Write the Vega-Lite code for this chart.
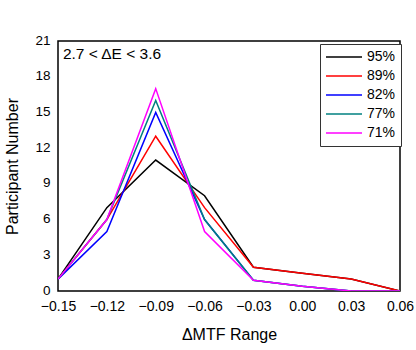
{
  "$schema": "https://vega.github.io/schema/vega-lite/v6.json",
  "width": 342,
  "height": 250,
  "autosize": {"type": "none"},
  "padding": {"left": 58, "top": 41, "right": 16, "bottom": 59},
  "background": "white",
  "config": {
    "font": "Liberation Sans",
    "view": {"stroke": "black", "strokeWidth": 1.5},
    "axis": {"grid": false, "domain": false, "ticks": false, "labelColor": "black", "titleColor": "black", "labelFont": "Liberation Sans", "titleFont": "Liberation Sans", "labelFontSize": 14, "titleFontSize": 16, "titleFontWeight": "normal", "labelOverlap": false}
  },
  "layer": [
    {
      "data": {
        "values": [
          {"x": -0.15, "y": 1, "g": "95%"}, {"x": -0.12, "y": 7, "g": "95%"}, {"x": -0.09, "y": 11, "g": "95%"}, {"x": -0.06, "y": 8, "g": "95%"}, {"x": -0.03, "y": 2, "g": "95%"}, {"x": 0.0, "y": 1.5, "g": "95%"}, {"x": 0.03, "y": 1, "g": "95%"}, {"x": 0.06, "y": 0, "g": "95%"},
          {"x": -0.15, "y": 1, "g": "89%"}, {"x": -0.12, "y": 6, "g": "89%"}, {"x": -0.09, "y": 13, "g": "89%"}, {"x": -0.06, "y": 7, "g": "89%"}, {"x": -0.03, "y": 2, "g": "89%"}, {"x": 0.0, "y": 1.5, "g": "89%"}, {"x": 0.03, "y": 1, "g": "89%"}, {"x": 0.06, "y": 0, "g": "89%"},
          {"x": -0.15, "y": 1, "g": "82%"}, {"x": -0.12, "y": 5, "g": "82%"}, {"x": -0.09, "y": 15, "g": "82%"}, {"x": -0.06, "y": 6, "g": "82%"}, {"x": -0.03, "y": 0.9, "g": "82%"}, {"x": 0.0, "y": 0.4, "g": "82%"}, {"x": 0.03, "y": 0, "g": "82%"}, {"x": 0.06, "y": 0, "g": "82%"},
          {"x": -0.15, "y": 1, "g": "77%"}, {"x": -0.12, "y": 6, "g": "77%"}, {"x": -0.09, "y": 16, "g": "77%"}, {"x": -0.06, "y": 6, "g": "77%"}, {"x": -0.03, "y": 0.9, "g": "77%"}, {"x": 0.0, "y": 0.4, "g": "77%"}, {"x": 0.03, "y": 0, "g": "77%"}, {"x": 0.06, "y": 0, "g": "77%"},
          {"x": -0.15, "y": 1, "g": "71%"}, {"x": -0.12, "y": 6, "g": "71%"}, {"x": -0.09, "y": 17, "g": "71%"}, {"x": -0.06, "y": 5, "g": "71%"}, {"x": -0.03, "y": 0.9, "g": "71%"}, {"x": 0.0, "y": 0.4, "g": "71%"}, {"x": 0.03, "y": 0, "g": "71%"}, {"x": 0.06, "y": 0, "g": "71%"}
        ]
      },
      "mark": {"type": "line", "strokeWidth": 1.5, "clip": true},
      "encoding": {
        "x": {"field": "x", "type": "quantitative", "scale": {"domain": [-0.15, 0.06], "nice": false}, "axis": {"values": [-0.15, -0.12, -0.09, -0.06, -0.03, 0, 0.03, 0.06], "format": ".2f", "title": "ΔMTF Range", "labelPadding": 8, "titlePadding": 13, "labelFlush": false, "labelOverlap": false}},
        "y": {"field": "y", "type": "quantitative", "scale": {"domain": [0, 21], "nice": false}, "axis": {"values": [0, 3, 6, 9, 12, 15, 18, 21], "tickCount": 8, "title": "Participant Number", "labelFontSize": 13.5, "labelPadding": 8, "labelOffset": -1, "titlePadding": 14, "labelFlush": false, "labelOverlap": false}},
        "color": {"field": "g", "type": "nominal", "sort": ["95%", "89%", "82%", "77%", "71%"], "scale": {"domain": ["95%", "89%", "82%", "77%", "71%"], "range": ["#000000", "#ff0000", "#0000ff", "#008080", "#ff00ff"]},
          "legend": {"title": null, "orient": "none", "legendX": 262, "legendY": 3, "symbolType": "stroke", "symbolSize": 1300, "symbolStrokeWidth": 1.5, "labelFontSize": 14, "labelColor": "black", "labelFont": "Liberation Sans", "strokeColor": "#333333", "fillColor": "white", "padding": 5, "clipHeight": 16, "rowPadding": 3, "labelOffset": 4}
        },
        "order": {"field": "g", "sort": "descending"}
      }
    },
    {
      "data": {"values": [{"label": "2.7 < ΔE < 3.6"}]},
      "mark": {"type": "text", "align": "left", "baseline": "middle", "fontSize": 15.5, "font": "Liberation Sans", "color": "black"},
      "encoding": {
        "x": {"datum": -0.147},
        "y": {"datum": 19.9},
        "text": {"field": "label"}
      }
    }
  ]
}
